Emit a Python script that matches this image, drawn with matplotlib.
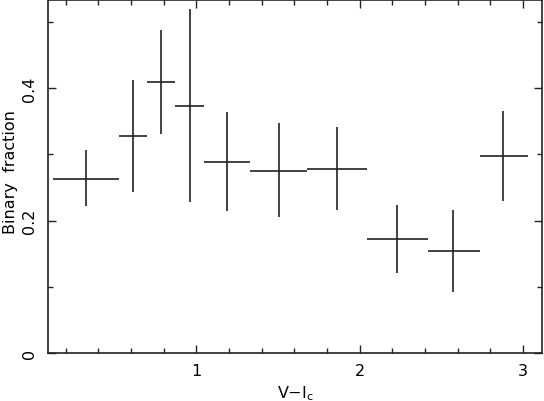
import numpy as np
import matplotlib
matplotlib.use("Agg")
import matplotlib.pyplot as plt
from matplotlib.ticker import MultipleLocator

# Data
x = np.array([0.326, 0.612, 0.784, 0.961, 1.188, 1.505, 1.862, 2.228, 2.574, 2.878])
x_lo = np.array([0.125, 0.527, 0.698, 0.871, 1.048, 1.329, 1.677, 2.042, 2.420, 2.735])
x_hi = np.array([0.527, 0.698, 0.871, 1.048, 1.329, 1.677, 2.042, 2.420, 2.735, 3.029])
y = np.array([0.263, 0.3275, 0.410, 0.373, 0.289, 0.275, 0.278, 0.172, 0.154, 0.298])
y_lo = np.array([0.222, 0.243, 0.331, 0.228, 0.214, 0.206, 0.216, 0.121, 0.093, 0.229])
y_hi = np.array([0.306, 0.412, 0.488, 0.519, 0.364, 0.347, 0.341, 0.2235, 0.2155, 0.365])

plt.rcParams['font.family'] = ['DejaVu Sans']
plt.rcParams['mathtext.fontset'] = 'dejavusans'

fig = plt.figure(figsize=(5.44, 4.02), dpi=100)
ax = fig.add_axes([0.0877, 0.1187, 0.9086, 0.8788])

ax.errorbar(x, y, xerr=[x - x_lo, x_hi - x], yerr=[y - y_lo, y_hi - y],
            fmt='none', ecolor='#222222', elinewidth=1.2, capsize=0)

ax.set_xlim(0.09, 3.116)
ax.set_ylim(0, 0.533)

ax.xaxis.set_major_locator(MultipleLocator(1))
ax.xaxis.set_minor_locator(MultipleLocator(0.2))
ax.yaxis.set_major_locator(MultipleLocator(0.2))
ax.yaxis.set_minor_locator(MultipleLocator(0.1))
ax.set_xticks([1, 2, 3])
ax.set_xticklabels(['1', '2', '3'])
ax.set_yticks([0, 0.2, 0.4])
ax.set_yticklabels(['0', '0.2', '0.4'], rotation=90, va='center')

ax.tick_params(which='both', direction='in', top=True, right=True, width=1.0, color='#222222')
ax.tick_params(which='major', length=6)
ax.tick_params(which='minor', length=3.5)
ax.tick_params(axis='x', which='major', pad=7, labelsize=11.5)
ax.tick_params(axis='y', which='major', pad=8, labelsize=11.5)

for s in ax.spines.values():
    s.set_linewidth(1.2)
    s.set_color('#222222')

ax.set_xlabel('V\u2212I$_\\mathregular{c}$', fontsize=11.5, labelpad=4)
ax.set_ylabel('Binary  fraction', fontsize=11.5)
ax.yaxis.set_label_coords(-0.06, 0.516)

fig.savefig('out.png', dpi=100)
